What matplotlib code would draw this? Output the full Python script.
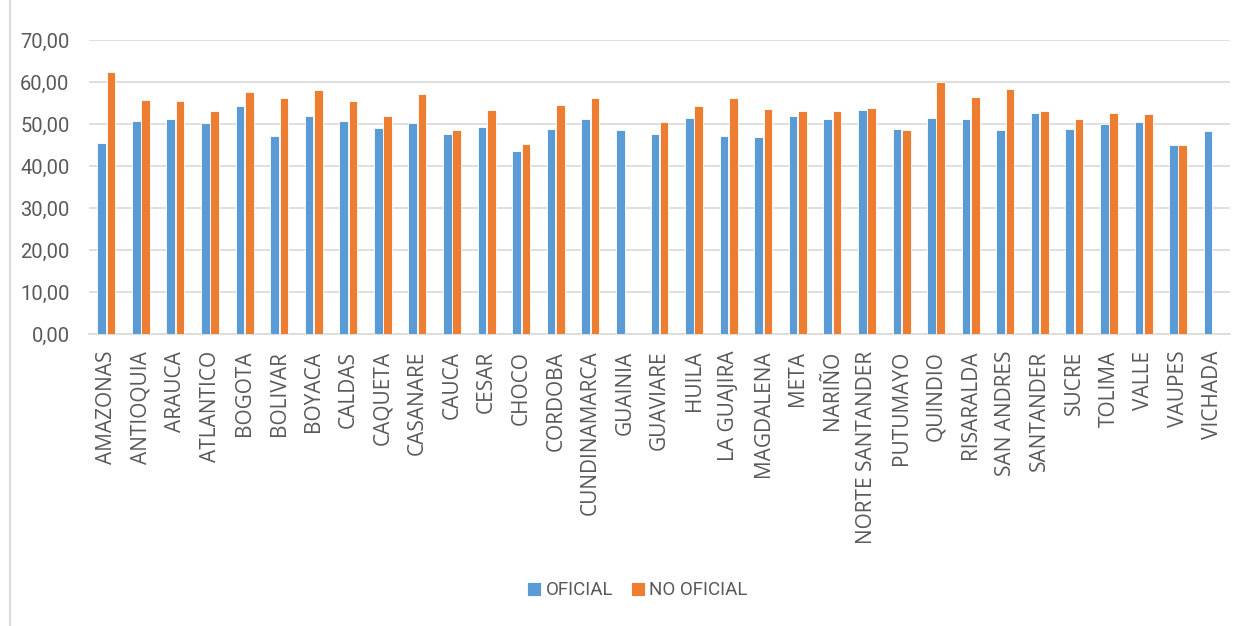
import numpy as np
import matplotlib
matplotlib.use('Agg')
import matplotlib.pyplot as plt
from matplotlib.lines import Line2D
from matplotlib import font_manager

# Department names and average scores.
departments = [
    "AMAZONAS", "ANTIOQUIA", "ARAUCA", "ATLANTICO", "BOGOTA", "BOLIVAR", "BOYACA",
    "CALDAS", "CAQUETA", "CASANARE", "CAUCA", "CESAR", "CHOCO", "CORDOBA",
    "CUNDINAMARCA", "GUAINIA", "GUAVIARE", "HUILA", "LA GUAJIRA", "MAGDALENA",
    "META", "NARIÑO", "NORTE SANTANDER", "PUTUMAYO", "QUINDIO", "RISARALDA",
    "SAN ANDRES", "SANTANDER", "SUCRE", "TOLIMA", "VALLE", "VAUPES", "VICHADA",
]
oficial = [
    45.5, 50.8, 51.1, 50.2, 54.3, 47.1, 52.0,
    50.8, 49.0, 50.2, 47.7, 49.2, 43.6, 48.9,
    51.1, 48.6, 47.7, 51.5, 47.1, 46.8,
    51.8, 51.1, 53.4, 48.9, 51.5, 51.1,
    48.6, 52.7, 48.9, 49.9, 50.5, 44.9, 48.3,
]
no_oficial = [
    62.4, 55.8, 55.5, 53.1, 57.7, 56.1, 58.0,
    55.5, 52.0, 57.1, 48.6, 53.3, 45.2, 54.6,
    56.1, np.nan, 50.5, 54.2, 56.1, 53.6,
    53.0, 53.1, 53.9, 48.6, 60.0, 56.5,
    58.4, 53.0, 51.1, 52.7, 52.3, 44.9, np.nan,
]
series_names = ["OFICIAL", "NO OFICIAL"]
y_ticks = [0, 10, 20, 30, 40, 50, 60, 70]

blue = '#5B9BD5'
orange = '#ED7D31'
text_gray = '#595959'
grid_gray = '#D9D9D9'

# Narrow font for the tick numbers and legend, if one is around.
names = {f.name for f in font_manager.fontManager.ttflist}
narrow = 'Liberation Sans Narrow' if 'Liberation Sans Narrow' in names else 'Roboto'

fig = plt.figure(figsize=(12.5, 6.26), dpi=100)
ax = fig.add_axes([0.0712, 0.4665, 0.9128, 0.4696])

x = np.arange(len(departments))
w = 0.25
ax.bar(x - 0.135, oficial, width=w, color=blue, edgecolor='white', linewidth=0.6,
       label=series_names[0], zorder=3)
ax.bar(x + 0.135, no_oficial, width=w, color=orange, edgecolor='white', linewidth=0.6,
       label=series_names[1], zorder=3)

ax.set_xlim(-0.5, len(departments) - 0.5)
ax.set_ylim(0, 70)
ax.set_yticks(y_ticks)
ax.set_yticklabels([f"{v:.2f}".replace('.', ',') for v in y_ticks],
                   fontsize=14.5, color=text_gray, family=[narrow, 'DejaVu Sans'],
                   fontstretch='condensed')
ax.set_xticks(x)
ax.set_xticklabels(departments, rotation=90, fontsize=15, color=text_gray,
                   family=['Open Sans', 'DejaVu Sans'])
ax.tick_params(axis='both', length=0)
ax.tick_params(axis='y', pad=14)
ax.tick_params(axis='x', pad=12)

ax.grid(axis='y', color=grid_gray, linewidth=1.2, zorder=0)
for side in ['top', 'right', 'left']:
    ax.spines[side].set_visible(False)
ax.spines['bottom'].set_color(grid_gray)
ax.spines['bottom'].set_linewidth(1.2)

# Legend below the labels.
fig.legend(loc='center', bbox_to_anchor=(0.51, 0.057), ncol=2, frameon=False,
           handlelength=0.75, handleheight=0.75, handletextpad=0.25, columnspacing=0.9,
           prop={'family': [narrow, 'DejaVu Sans'], 'size': 13.5},
           labelcolor=text_gray)

# Chart border on the left edge.
fig.add_artist(Line2D([0.008, 0.008], [0.0, 1.0], color=grid_gray, linewidth=1.5,
                      transform=fig.transFigure))

fig.savefig('out.png', dpi=100, facecolor='white')
